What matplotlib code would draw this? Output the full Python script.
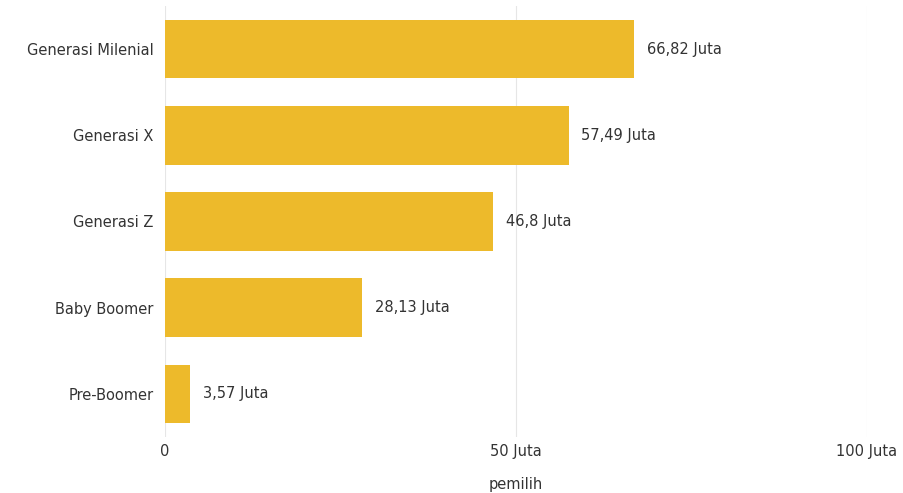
import matplotlib.pyplot as plt

categories = ['Generasi Milenial', 'Generasi X', 'Generasi Z', 'Baby Boomer', 'Pre-Boomer']
values = [66.82, 57.49, 46.8, 28.13, 3.57]
value_labels = ['66,82 Juta', '57,49 Juta', '46,8 Juta', '28,13 Juta', '3,57 Juta']
x_ticks = [0, 50, 100]
x_tick_labels = ['0', '50 Juta', '100 Juta']

plt.rcParams['font.family'] = ['DejaVu Sans']
FS = 10.5
TXT = '#333333'

fig = plt.figure(figsize=(9.04, 4.93), dpi=100)
ax = fig.add_axes([0.1825, 0.1136, 0.9590 - 0.1825, 0.8744])

ypos = list(range(len(categories)))
ax.barh(ypos, values, height=0.68, color='#EDBA2B', zorder=2)

for y, v, lab in zip(ypos, values, value_labels):
    ax.annotate(lab, (v, y), xytext=(9, 0), textcoords='offset points',
                va='center', ha='left', fontsize=FS, color=TXT)

ax.set_xlim(0, 100)
ax.set_ylim(4.5, -0.5)
ax.set_yticks(ypos)
ax.set_yticklabels(categories, fontsize=FS, color=TXT)
ax.set_xticks(x_ticks)
ax.set_xticklabels(x_tick_labels, fontsize=FS, color=TXT)
ax.set_xlabel('pemilih', fontsize=FS, color=TXT, labelpad=13)
ax.tick_params(axis='y', length=0, pad=8)
ax.tick_params(axis='x', length=0, pad=5)

ax.grid(axis='x', color='#e6e6e6', linewidth=0.8, zorder=0)
for s in ax.spines.values():
    s.set_visible(False)

fig.savefig('out.png', dpi=100)
